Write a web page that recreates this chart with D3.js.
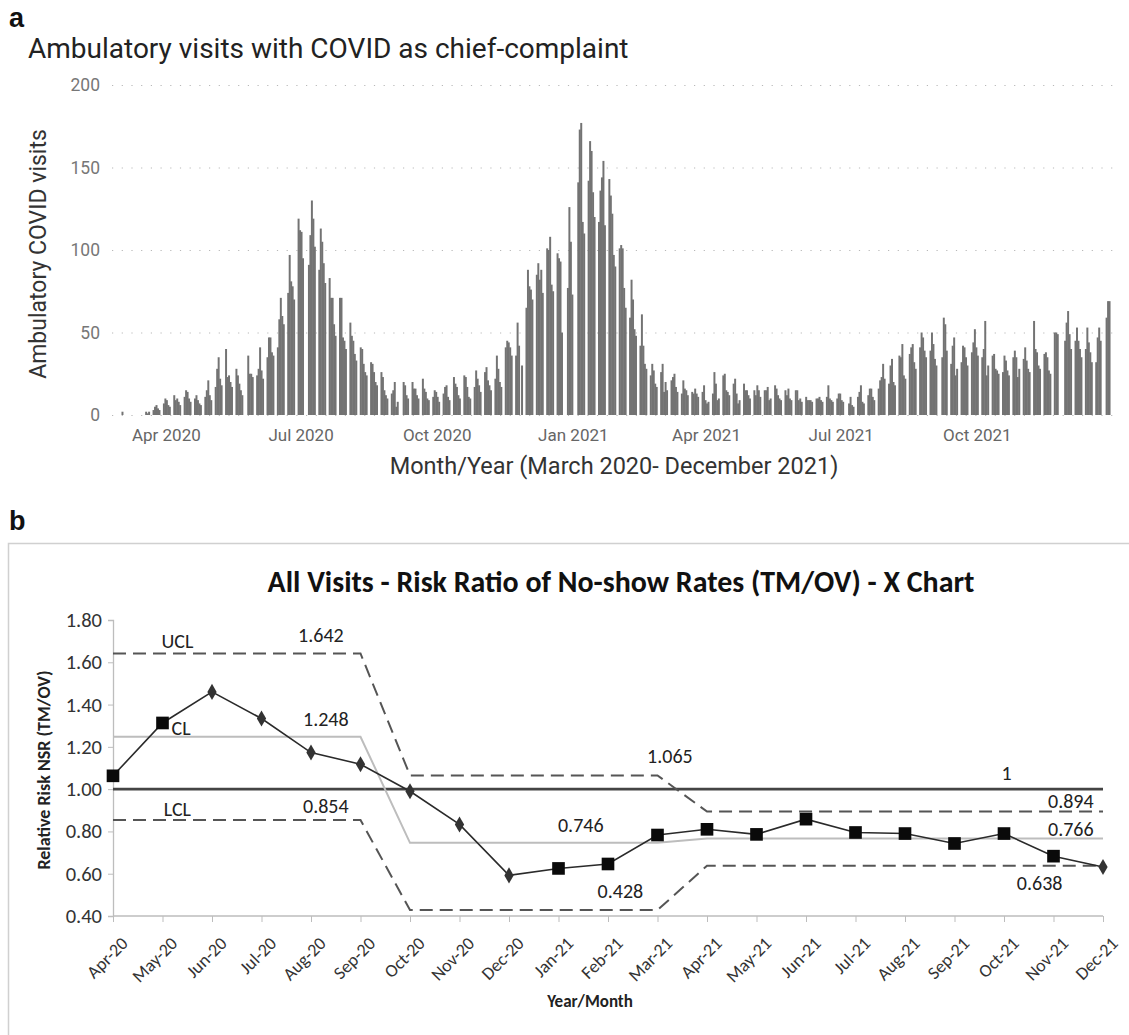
<!DOCTYPE html>
<html><head><meta charset="utf-8">
<script src="https://cdn.jsdelivr.net/npm/d3@7"></script>
<style>body{margin:0;background:#fff}</style>
</head><body>
<svg id="chart" width="1129" height="1035" xmlns="http://www.w3.org/2000/svg"></svg>
<script>
// ---------------- Panel a data ----------------
const firstMonday = "2020-03-02";           // week 0 Monday
const axisStart = "2020-03-01";
const axisEnd = "2022-01-01";
// daily ambulatory COVID visits, Mon..Fri per week (weekends none)
const weekdayVisits = [
  [2,0,0,0,0],[0,0,0,0,0],[0,0,2,1,2],[3,5,6,4,3],[7,10,9,6,5],
  [12,9,10,8,6],[11,15,14,10,8],[10,12,9,7,6],[11,15,21,12,9],[17,28,35,22,18],
  [40,23,24,20,17],[28,24,19,15,12],[0,36,25,25,23],[24,28,41,27,22],[35,47,47,38,36],
  [41,58,71,60,55],[74,97,81,78,70],[119,112,111,95,0],[91,109,130,119,102],[88,113,105,92,80],
  [83,71,71,55,48],[71,71,47,45,40],[56,48,45,37,33],[41,40,31,26,24],[32,31,26,20,18],
  [26,23,15,12,10],[13,15,20,5,8],[0,20,18,12,10],[20,16,16,12,10],[22,16,14,10,9],
  [11,15,14,11,8],[13,17,18,11,9],[23,19,17,12,10],[24,23,17,11,10],[17,27,22,18,14],
  [26,29,21,18,15],[22,36,28,20,17],[41,45,44,41,36],[36,56,42,0,30],[65,88,78,76,70],
  [85,92,82,88,74],[101,100,108,79,75],[98,95,93,50,0],[77,126,105,73,0],[141,173,177,117,110],
  [142,166,160,135,120],[117,136,144,154,115],[143,133,122,97,90],[101,103,101,77,65],[59,82,70,52,48],
  [42,61,42,31,28],[24,31,27,19,17],[26,31,14,20,15],[21,23,25,17,14],[13,21,16,15,12],
  [14,13,16,13,11],[14,18,9,7,8],[13,26,19,9,10],[24,25,15,14,12],[19,22,13,7,9],
  [19,15,15,12,10],[15,12,18,15,11],[15,15,17,9,10],[18,16,12,10,9],[15,12,16,10,9],
  [15,15,9,10,8],[11,9,9,9,8],[10,10,11,9,8],[11,18,10,9,8],[10,13,13,9,8],
  [0,7,11,6,5],[11,14,18,8,7],[12,16,16,11,9],[16,21,23,31,22],[19,30,34,20,18],
  [36,35,43,24,22],[37,41,43,32,28],[41,50,47,39,35],[39,50,43,34,30],[0,35,59,55,39],
  [31,42,47,24,28],[32,42,41,35,30],[38,44,52,41,36],[35,40,57,24,30],[36,37,28,27,25],
  [26,36,33,27,24],[35,39,35,23,28],[34,41,33,28,26],[57,40,38,30,28],[37,38,35,27,25],
  [50,50,49,0,0],[45,56,63,49,40],[45,53,45,40,35],[40,53,44,38,32],[32,47,53,45,0],
  [59,69,69,0,0]
];
const quarterTicks = ["2020-04-01","2020-07-01","2020-10-01","2021-01-01","2021-04-01","2021-07-01","2021-10-01"];
const quarterLabels = ["Apr 2020","Jul 2020","Oct 2020","Jan 2021","Apr 2021","Jul 2021","Oct 2021"];
const visitTicks = [0,50,100,150,200];

// ---------------- Panel b data ----------------
const months = ["Apr-20","May-20","Jun-20","Jul-20","Aug-20","Sep-20","Oct-20","Nov-20","Dec-20",
  "Jan-21","Feb-21","Mar-21","Apr-21","May-21","Jun-21","Jul-21","Aug-21","Sep-21","Oct-21","Nov-21","Dec-21"];
const riskRatio = [1.063,1.313,1.46,1.334,1.173,1.118,0.99,0.833,0.592,
  0.625,0.646,0.783,0.81,0.786,0.858,0.795,0.79,0.743,0.79,0.683,0.632];
const markerShape = ["square","square","diamond","diamond","diamond","diamond","diamond","diamond","diamond",
  "square","square","square","square","square","square","square","square","square","square","square","diamond"];
const uclValues = [1.642,1.642,1.642,1.642,1.642,1.642,1.065,1.065,1.065,1.065,1.065,1.065,
  0.894,0.894,0.894,0.894,0.894,0.894,0.894,0.894,0.894];
const clValues = [1.248,1.248,1.248,1.248,1.248,1.248,0.746,0.746,0.746,0.746,0.746,0.746,
  0.766,0.766,0.766,0.766,0.766,0.766,0.766,0.766,0.766];
const lclValues = [0.854,0.854,0.854,0.854,0.854,0.854,0.428,0.428,0.428,0.428,0.428,0.428,
  0.638,0.638,0.638,0.638,0.638,0.638,0.638,0.638,0.638];
const referenceValue = 1;
const riskTicks = [0.4,0.6,0.8,1.0,1.2,1.4,1.6,1.8];

const svg = d3.select("#chart");
const fontA = "Roboto, 'Noto Sans', sans-serif";
const fontB = "Carlito, 'Liberation Sans Narrow', Lato, 'Open Sans', sans-serif";

// ================= Panel a =================
const parse = d3.utcParse("%Y-%m-%d");
const xA = d3.scaleUtc().domain([parse(axisStart), parse(axisEnd)]).range([120, 1113]);
const yA = d3.scaleLinear().domain([0, 200]).range([415, 85]);

svg.append("text").attr("x", 9).attr("y", 27).text("a")
  .attr("font-family", "Arial, 'Liberation Sans', sans-serif").attr("font-weight", "bold").attr("font-size", 27).attr("fill", "#111");
svg.append("text").attr("x", 28).attr("y", 58).text("Ambulatory visits with COVID as chief-complaint")
  .attr("font-family", fontA).attr("font-size", 28).attr("fill", "#222");

const gy = svg.append("g").attr("transform", "translate(112,0)")
  .call(d3.axisLeft(yA).tickValues(visitTicks).tickSize(-1001).tickPadding(12));
gy.select(".domain").remove();
gy.selectAll(".tick line").attr("stroke", "#b8b8b8").attr("stroke-width", 1.2).attr("stroke-dasharray", "1.2,8.5");
gy.selectAll(".tick text").attr("font-family", fontA).attr("font-size", 17.5).attr("fill", "#777");

const bars = weekdayVisits.flatMap((wk, w) => wk.map((v, d) => ({
  date: d3.utcDay.offset(parse(firstMonday), 7 * w + d), v
}))).filter(d => d.v > 0);
svg.append("g").selectAll("rect").data(bars).join("rect")
  .attr("x", d => xA(d.date))
  .attr("width", d => xA(d3.utcDay.offset(d.date, 1)) - xA(d.date) + 0.5)
  .attr("y", d => yA(d.v))
  .attr("height", d => yA(0) - yA(d.v))
  .attr("fill", "#737373");

const gx = svg.append("g").attr("transform", "translate(0,415)")
  .call(d3.axisBottom(xA).tickValues(quarterTicks.map(parse)).tickFormat((d, i) => quarterLabels[i]).tickSize(0).tickPadding(14));
gx.select(".domain").remove();
gx.selectAll(".tick text").attr("font-family", fontA).attr("font-size", 17).attr("fill", "#666");

svg.append("text").attr("x", 614).attr("y", 474).attr("text-anchor", "middle")
  .text("Month/Year (March 2020- December 2021)")
  .attr("font-family", fontA).attr("font-size", 23.5).attr("fill", "#333");
svg.append("text").attr("transform", "translate(46,254) rotate(-90)").attr("text-anchor", "middle")
  .text("Ambulatory COVID visits")
  .attr("font-family", fontA).attr("font-size", 23).attr("fill", "#333");

// ================= Panel b =================
svg.append("text").attr("x", 9).attr("y", 530).text("b")
  .attr("font-family", "Arial, 'Liberation Sans', sans-serif").attr("font-weight", "bold").attr("font-size", 27).attr("fill", "#111");
svg.append("rect").attr("x", 8.5).attr("y", 543.5).attr("width", 1125).attr("height", 495)
  .attr("fill", "none").attr("stroke", "#d0d0d0").attr("stroke-width", 1.5);

const xB = d3.scalePoint().domain(months).range([113, 1103]);
const yB = d3.scaleLinear().domain([0.4, 1.8]).range([916, 620]);

const title = svg.append("text").attr("x", 621).attr("y", 592).attr("text-anchor", "middle")
  .text("All Visits - Risk Ratio of No-show Rates (TM/OV) - X Chart")
  .attr("font-family", fontB).attr("font-weight", "bold").attr("font-size", 30).attr("fill", "#111");
function fitWidth(sel, target) {
  const w = sel.node().getComputedTextLength();
  const fs = +sel.attr("font-size");
  if (w > 0) sel.attr("font-size", (fs * target / w).toFixed(2));
}
fitWidth(title, 707);

const gyB = svg.append("g").attr("transform", "translate(113,0)")
  .call(d3.axisLeft(yB).tickValues(riskTicks).tickFormat(d3.format(".2f")).tickSize(5).tickPadding(6));
gyB.select(".domain").attr("stroke", "#bdbdbd").attr("stroke-width", 1.3);
gyB.selectAll(".tick line").attr("stroke", "#bdbdbd");
gyB.selectAll(".tick text").attr("font-family", fontB).attr("font-size", 20.5).attr("fill", "#333");

const gxB = svg.append("g").attr("transform", "translate(0,916)")
  .call(d3.axisBottom(xB).tickSize(6).tickPadding(4));
gxB.select(".domain").attr("stroke", "#bdbdbd").attr("stroke-width", 1.3).attr("d", "M113,0H1103");
gxB.selectAll(".tick line").attr("stroke", "#bdbdbd");
gxB.selectAll(".tick text").attr("font-family", fontB).attr("font-size", 18).attr("fill", "#333")
  .attr("text-anchor", "end").attr("dy", "0.35em").attr("transform", "translate(4,17) rotate(-45)");

svg.append("text").attr("x", 590).attr("y", 1007).attr("text-anchor", "middle").text("Year/Month")
  .attr("font-family", fontB).attr("font-weight", "bold").attr("font-size", 17).attr("fill", "#222");
svg.append("text").attr("transform", "translate(50,770) rotate(-90)").attr("text-anchor", "middle")
  .text("Relative Risk NSR (TM/OV)")
  .attr("font-family", fontB).attr("font-weight", "bold").attr("font-size", 18).attr("fill", "#222");

const lineB = d3.line().x((d, i) => xB(months[i])).y(d => yB(d));
// reference line at 1
svg.append("path").datum(months.map(() => referenceValue)).attr("d", lineB)
  .attr("fill", "none").attr("stroke", "#444").attr("stroke-width", 2.6);
// CL
svg.append("path").datum(clValues).attr("d", lineB)
  .attr("fill", "none").attr("stroke", "#bdbdbd").attr("stroke-width", 2);
// UCL / LCL
[uclValues, lclValues].forEach(vals => {
  svg.append("path").datum(vals).attr("d", lineB)
    .attr("fill", "none").attr("stroke", "#555").attr("stroke-width", 2).attr("stroke-dasharray", "13,7");
});
// series
svg.append("path").datum(riskRatio).attr("d", lineB)
  .attr("fill", "none").attr("stroke", "#2a2a2a").attr("stroke-width", 1.6);
svg.append("g").selectAll("path").data(riskRatio).join("path")
  .attr("transform", (d, i) => `translate(${xB(months[i])},${yB(d)})`)
  .attr("d", (d, i) => markerShape[i] === "square"
    ? d3.symbol(d3.symbolSquare, 160)()
    : d3.symbol(d3.symbolDiamond, 75)())
  .attr("fill", (d, i) => markerShape[i] === "square" ? "#0a0a0a" : "#333");

// annotations
const ann = (txt, x, y, anchor) => svg.append("text").attr("x", x).attr("y", y)
  .attr("text-anchor", anchor || "middle").text(txt)
  .attr("font-family", fontB).attr("font-size", 20).attr("fill", "#222");
const midX = (a, b, t) => xB(months[a]) + (xB(months[b]) - xB(months[a])) * t;
ann("UCL", midX(1, 2, 0.3), yB(uclValues[0]) - 5);
ann(d3.format(".3f")(uclValues[0]), midX(4, 5, 0.2), yB(uclValues[0]) - 11);
ann("CL", xB(months[1]) + 9, yB(clValues[0]) - 2, "start");
ann(d3.format(".3f")(clValues[0]), midX(4, 5, 0.3), yB(clValues[0]) - 11);
ann("LCL", midX(1, 2, 0.3), yB(lclValues[0]) - 4);
ann(d3.format(".3f")(lclValues[0]), midX(4, 5, 0.3), yB(lclValues[0]) - 7);
ann(d3.format(".3f")(uclValues[6]), midX(11, 12, 0.25), yB(uclValues[6]) - 12);
ann(d3.format(".3f")(clValues[6]), midX(9, 10, 0.45), yB(clValues[6]) - 11);
ann(d3.format(".3f")(lclValues[6]), midX(10, 11, 0.25), yB(lclValues[6]) - 12);
ann(String(referenceValue), midX(18, 19, 0.05), yB(referenceValue) - 9);
ann(d3.format(".3f")(uclValues[20]), midX(19, 20, 0.35), yB(uclValues[20]) - 4);
ann(d3.format(".3f")(clValues[20]), midX(19, 20, 0.35), yB(clValues[20]) - 3);
ann(d3.format(".3f")(lclValues[20]), midX(18, 19, 0.72), yB(lclValues[20]) + 24);
</script>
</body></html>
